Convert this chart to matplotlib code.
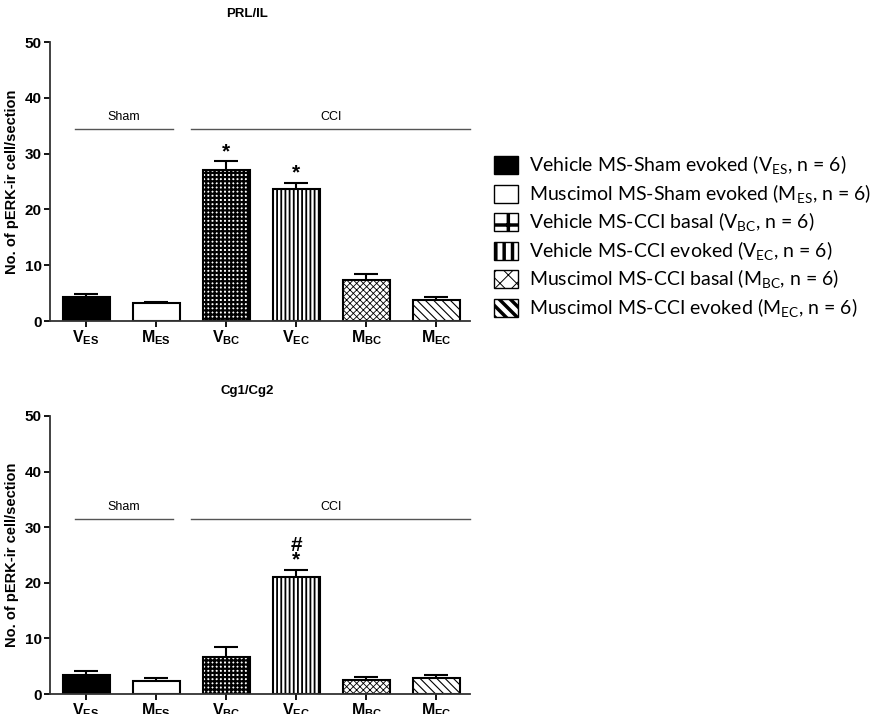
import matplotlib
matplotlib.use("Agg")
import matplotlib.pyplot as plt
from matplotlib.patches import Patch

groups = ["V$_\\mathregular{ES}$", "M$_\\mathregular{ES}$", "V$_\\mathregular{BC}$",
          "V$_\\mathregular{EC}$", "M$_\\mathregular{BC}$", "M$_\\mathregular{EC}$"]
prl_mean = [4.35, 3.15, 27.1, 23.7, 7.3, 3.8]
prl_sem = [0.45, 0.3, 1.5, 1.1, 1.1, 0.5]
cg_mean = [3.35, 2.4, 6.6, 21.1, 2.45, 2.8]
cg_sem = [0.7, 0.4, 1.9, 1.2, 0.55, 0.55]
prl_marks = ["", "", "*", "*", "", ""]
cg_marks = ["", "", "", "#\n*", "", ""]
legend_labels = [
    "Vehicle MS-Sham evoked (V$_\\mathregular{ES}$, n = 6)",
    "Muscimol MS-Sham evoked (M$_\\mathregular{ES}$, n = 6)",
    "Vehicle MS-CCI basal (V$_\\mathregular{BC}$, n = 6)",
    "Vehicle MS-CCI evoked (V$_\\mathregular{EC}$, n = 6)",
    "Muscimol MS-CCI basal (M$_\\mathregular{BC}$, n = 6)",
    "Muscimol MS-CCI evoked (M$_\\mathregular{EC}$, n = 6)",
]

faces = ["black", "white", "white", "white", "white", "white"]
hatches = [None, None, "++++", "||||", "xxxxx", "\\\\\\\\"]
hatch_lw = [1, 1, 1.6, 1.3, 0.6, 0.8]
leg_hatches = [None, None, "+", "||", "xx", "\\\\\\"]
leg_hatch_lw = [1, 1, 2.5, 2.5, 0.7, 2.5]

plt.rcParams["font.family"] = "Liberation Sans"
plt.rcParams["hatch.linewidth"] = 1.0

fig = plt.figure(figsize=(8.79, 7.14), dpi=100)
ax1 = fig.add_axes([0.057, 0.5504, 0.478, 0.3907])
ax2 = fig.add_axes([0.057, 0.028, 0.478, 0.3894])


def draw(ax, mean, sem, marks, title, sham_y, title_y):
    x = list(range(len(mean)))
    bars = ax.bar(x, mean, width=0.67, color=faces, edgecolor="black", linewidth=1.5)
    for b, h, lw in zip(bars, hatches, hatch_lw):
        if h:
            b.set_hatch(h)
            if hasattr(b, "set_hatch_linewidth"):
                b.set_hatch_linewidth(lw)
    tops = [m + s for m, s in zip(mean, sem)]
    ax.vlines(x, mean, tops, color="black", linewidth=1.5)
    ax.hlines(tops, [i - 0.17 for i in x], [i + 0.17 for i in x], color="black", linewidth=1.5)
    for i, t in enumerate(marks):
        if t:
            ax.text(i, tops[i] + 0.1, t, ha="center", va="bottom", fontsize=15,
                    fontweight="bold", linespacing=0.7)
    ax.set_xlim(-0.514, 5.486)
    ax.set_ylim(0, 50)
    ax.set_yticks([0, 10, 20, 30, 40, 50])
    ax.set_xticks(x)
    ax.set_xticklabels(groups, fontsize=11.5, fontweight="bold")
    for lab in ax.get_yticklabels():
        lab.set_fontweight("bold")
        lab.set_fontsize(11)
    ax.spines["top"].set_visible(False)
    ax.spines["right"].set_visible(False)
    ax.spines["left"].set_linewidth(1.3)
    ax.spines["bottom"].set_linewidth(1.3)
    ax.spines["left"].set_color("#333333")
    ax.spines["bottom"].set_color("#333333")
    ax.tick_params(axis="y", length=4, width=1.3, pad=2)
    ax.tick_params(axis="x", length=4, width=1.3, pad=1)
    ax.set_ylabel("No. of pERK-ir cell/section", fontsize=10.5, fontweight="bold", labelpad=4)
    ax.plot([-0.157, 1.24], [sham_y, sham_y], color="#555555", linewidth=1, clip_on=False)
    ax.plot([1.5, 5.486], [sham_y, sham_y], color="#555555", linewidth=1, clip_on=False)
    ax.text(0.54, sham_y + 1.0, "Sham", ha="center", va="bottom", fontsize=9)
    ax.text(3.5, sham_y + 1.0, "CCI", ha="center", va="bottom", fontsize=9)
    fig.text(247 / 879, title_y, title, ha="center", va="center", fontsize=9.5, fontweight="bold")


draw(ax1, prl_mean, prl_sem, prl_marks, "PRL/IL", 34.5, 1 - 14 / 714)
draw(ax2, cg_mean, cg_sem, cg_marks, "Cg1/Cg2", 31.5, 1 - 391 / 714)

handles = []
for f, h in zip(faces, leg_hatches):
    p = Patch(facecolor=f, edgecolor="black", linewidth=1, hatch=h)
    handles.append(p)
leg = fig.legend(handles, legend_labels, loc="upper left", bbox_to_anchor=(486 / 879, 1 - 146 / 714),
                 frameon=False, prop={"family": "Lato", "size": 14}, handlelength=1.25,
                 handleheight=1.05, handletextpad=0.55, labelspacing=0.27, borderaxespad=0)
for p, lw in zip(leg.get_patches(), leg_hatch_lw):
    if hasattr(p, "set_hatch_linewidth"):
        p.set_hatch_linewidth(lw)

fig.savefig("out.png", dpi=100)
